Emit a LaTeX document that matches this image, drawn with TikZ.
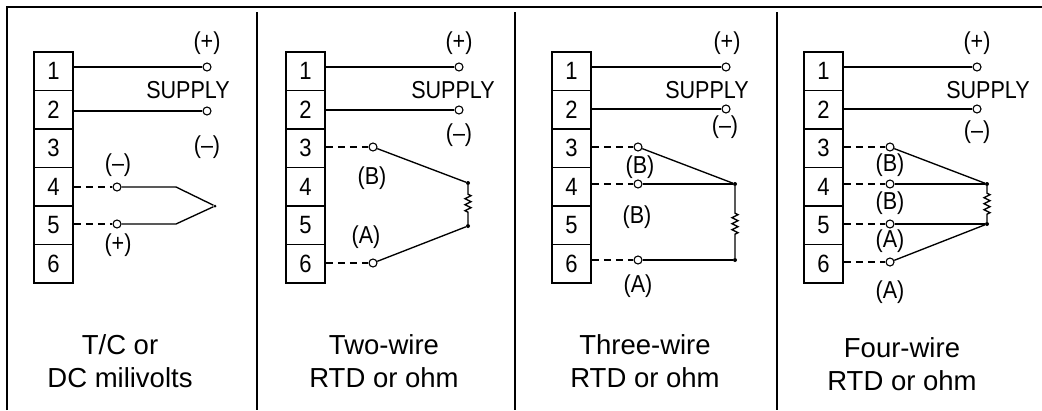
\documentclass[tikz,border=0pt]{standalone}
\usepackage{fontspec}
\setmainfont{Liberation Sans}
\newfontfamily\narrowfont[FakeStretch=0.88]{Liberation Sans}
\usetikzlibrary{positioning,decorations.pathmorphing}

\begin{document}
\begin{tikzpicture}[x=1pt,y=-1pt,node distance=38.5pt,on grid,
  cell/.style={draw,line width=1.5pt,minimum width=39pt,minimum height=38.5pt,inner sep=0pt,font=\narrowfont\fontsize{25}{25}\selectfont},
  term/.style={circle,draw,fill=white,line width=1.1pt,inner sep=0pt,minimum size=8pt},
  dot/.style={circle,fill,inner sep=0pt,minimum size=4pt},
  lbl/.style={inner sep=0pt,font=\narrowfont\fontsize{24.5}{24.5}\selectfont},
  caption/.style={align=center,inner sep=0pt,font=\fontsize{27.5}{33}\selectfont}]
\useasboundingbox (0,0) rectangle (1042,410);
\tikzset{wire/.style={line width=1.35pt}}
\tikzset{lead/.style={line width=1.35pt,dash pattern=on 7pt off 5pt}}
\tikzset{resistor/.style={wire,decorate,decoration={zigzag,amplitude=3pt,segment length=6pt,pre length=9pt,post length=9pt}}}
% frame
\draw[line width=2.5pt] (7,410) -- (7,7) -- (1042,7);
\draw[line width=2pt] (257,12) -- (257,410);
\draw[line width=2pt] (515,12) -- (515,410);
\draw[line width=2pt] (777,12) -- (777,410);
% terminal blocks
\node[cell] (a1) at (53.5,71) {1};
\node[cell] (a2) [below=of a1] {2};
\node[cell] (a3) [below=of a2] {3};
\node[cell] (a4) [below=of a3] {4};
\node[cell] (a5) [below=of a4] {5};
\node[cell] (a6) [below=of a5] {6};
\node[cell] (b1) at (305.5,71) {1};
\node[cell] (b2) [below=of b1] {2};
\node[cell] (b3) [below=of b2] {3};
\node[cell] (b4) [below=of b3] {4};
\node[cell] (b5) [below=of b4] {5};
\node[cell] (b6) [below=of b5] {6};
\node[cell] (c1) at (571.5,71) {1};
\node[cell] (c2) [below=of c1] {2};
\node[cell] (c3) [below=of c2] {3};
\node[cell] (c4) [below=of c3] {4};
\node[cell] (c5) [below=of c4] {5};
\node[cell] (c6) [below=of c5] {6};
\node[cell] (d1) at (823.5,71) {1};
\node[cell] (d2) [below=of d1] {2};
\node[cell] (d3) [below=of d2] {3};
\node[cell] (d4) [below=of d3] {4};
\node[cell] (d5) [below=of d4] {5};
\node[cell] (d6) [below=of d5] {6};
% supply terminals
\node[term] (sa1) at (207,67)  {};
\node[term] (sa2) at (207,111) {};
\node[term] (sb1) at (459,67)  {};
\node[term] (sb2) at (459,110) {};
\node[term] (sc1) at (726,67)  {};
\node[term] (sc2) at (726,109) {};
\node[term] (sd1) at (977,67)  {};
\node[term] (sd2) at (977,109) {};
\path (a1.east |- sa1) edge [wire] (sa1)
      (a2.east |- sa2) edge [wire] (sa2)
      (b1.east |- sb1) edge [wire] (sb1)
      (b2.east |- sb2) edge [wire] (sb2)
      (c1.east |- sc1) edge [wire] (sc1)
      (c2.east |- sc2) edge [wire] (sc2)
      (d1.east |- sd1) edge [wire] (sd1)
      (d2.east |- sd2) edge [wire] (sd2);
\node[lbl] (pa) at (207,43)  {(+)};
\node[lbl] (ua) at (188,90)  {SUPPLY};
\node[lbl] (ma) at (207,147) {(–)};
\node[lbl] (pb) at (459,43)  {(+)};
\node[lbl] (ub) at (453,90)  {SUPPLY};
\node[lbl] (mb) at (459,135) {(–)};
\node[lbl] (pc) at (727,43)  {(+)};
\node[lbl] (uc) at (707,90)  {SUPPLY};
\node[lbl] (mc) at (725,127) {(–)};
\node[lbl] (pd) at (977,43)  {(+)};
\node[lbl] (ud) at (988,90)  {SUPPLY};
\node[lbl] (md) at (977,132) {(–)};
% T/C
\node[term] (ta4) at (117,187) {};
\node[term] (ta5) at (117,224) {};
\node[dot,minimum size=3pt] (ja) at (215,206) {};
\node[lbl] (la4) at (118,165) {(–)};
\node[lbl] (la5) at (118,245) {(+)};
\path (a4.east |- ta4) edge [lead] (ta4)
      (a5.east |- ta5) edge [lead] (ta5);
\draw[wire] (ta4) -- ++(59,0) -- (ja);
\draw[wire] (ta5) -- ++(59,0) -- (ja);
% two-wire
\node[term] (tb3) at (373,147) {};
\node[term] (tb6) at (373,263) {};
\node[dot] (jb1) at (468,183) {};
\node[dot] (jb2) at (468,226) {};
\node[lbl] (lb3) at (372,178) {(B)};
\node[lbl] (lb6) at (366,237) {(A)};
\path (b3.east |- tb3) edge [lead] (tb3)
      (b6.east |- tb6) edge [lead] (tb6)
      (tb3) edge [wire] (jb1)
      (jb2) edge [wire] (tb6);
\draw[resistor] (jb1) -- (jb2);
% three-wire
\node[term] (tc3) at (638,147) {};
\node[term] (tc4) at (638,184) {};
\node[term] (tc6) at (638,260) {};
\node[dot] (jc1) at (735,184) {};
\node[dot] (jc2) at (735,260) {};
\node[lbl] (lc3) at (640,167) {(B)};
\node[lbl] (lc4) at (637,217) {(B)};
\node[lbl] (lc6) at (638,286) {(A)};
\path (c3.east |- tc3) edge [lead] (tc3)
      (c4.east |- tc4) edge [lead] (tc4)
      (c6.east |- tc6) edge [lead] (tc6)
      (tc3) edge [wire] (jc1)
      (tc4) edge [wire] (jc1)
      (tc6) edge [wire] (jc2);
\draw[resistor,decoration={pre length=27pt,post length=23pt}] (jc1) -- (jc2);
% four-wire
\node[term] (td3) at (890,147) {};
\node[term] (td4) at (890,184) {};
\node[term] (td5) at (890,224) {};
\node[term] (td6) at (890,262) {};
\node[dot] (jd1) at (987,184) {};
\node[dot] (jd2) at (987,224) {};
\node[lbl] (ld3) at (890,165) {(B)};
\node[lbl] (ld4) at (890,203) {(B)};
\node[lbl] (ld5) at (890,241) {(A)};
\node[lbl] (ld6) at (890,292) {(A)};
\path (d3.east |- td3) edge [lead] (td3)
      (d4.east |- td4) edge [lead] (td4)
      (d5.east |- td5) edge [lead] (td5)
      (d6.east |- td6) edge [lead] (td6)
      (td3) edge [wire] (jd1)
      (td4) edge [wire] (jd1)
      (td5) edge [wire] (jd2)
      (td6) edge [wire] (jd2);
\draw[resistor,decoration={pre length=7pt,post length=7pt}] (jd1) -- (jd2);
% captions
\node[caption] (ca) at (120,361) {T/C or\\DC milivolts};
\node[caption] (cb) at (384,361) {Two-wire\\RTD or ohm};
\node[caption] (cc) at (645,361) {Three-wire\\RTD or ohm};
\node[caption] (cd) at (902,364) {Four-wire\\RTD or ohm};
\end{tikzpicture}
\end{document}
